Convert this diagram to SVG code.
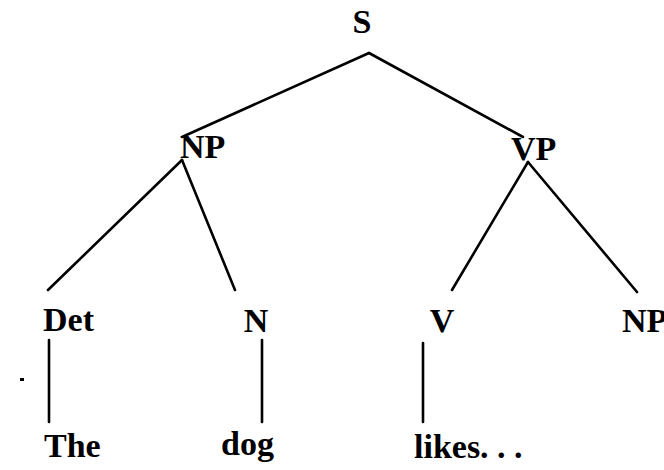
<svg xmlns="http://www.w3.org/2000/svg" width="664" height="470" viewBox="0 0 664 470">
<style>
.lbl{font-family:"Liberation Serif","Times New Roman",serif;font-size:34px;font-weight:bold;fill:#000}
.edge{stroke:#000;stroke-width:2.6;fill:none;stroke-linecap:round}
</style>
<rect width="664" height="470" fill="#fff"/>
<g id="connectors">
<line class="edge" x1="369" y1="53" x2="182" y2="137"/>
<line class="edge" x1="369" y1="53" x2="523" y2="137"/>
<line class="edge" x1="182" y1="160" x2="48" y2="290"/>
<line class="edge" x1="182" y1="160" x2="235" y2="290"/>
<line class="edge" x1="528" y1="162" x2="452" y2="290"/>
<line class="edge" x1="528" y1="162" x2="637" y2="292"/>
<line class="edge" x1="49" y1="340" x2="49" y2="422"/>
<line class="edge" x1="262" y1="340" x2="262" y2="422"/>
<line class="edge" x1="423" y1="343" x2="423" y2="422"/>
</g>
<g id="node-S"><text class="lbl" x="362" y="33" text-anchor="middle">S</text></g>
<g id="node-NP1"><text class="lbl" x="180" y="158">NP</text></g>
<g id="node-VP"><text class="lbl" x="511" y="160">VP</text></g>
<g id="node-Det"><text class="lbl" x="43" y="331">Det</text></g>
<g id="node-N"><text class="lbl" x="256" y="332" text-anchor="middle">N</text></g>
<g id="node-V"><text class="lbl" x="442" y="332" text-anchor="middle">V</text></g>
<g id="node-NP2"><text class="lbl" x="622" y="332">NP</text></g>
<g id="node-The"><text class="lbl" x="44" y="457">The</text></g>
<g id="node-dog"><text class="lbl" x="221" y="455">dog</text></g>
<g id="node-likes"><text class="lbl" x="414" y="458">likes. . .</text></g>
<rect x="20" y="378" width="4" height="3" fill="#000"/>
</svg>
